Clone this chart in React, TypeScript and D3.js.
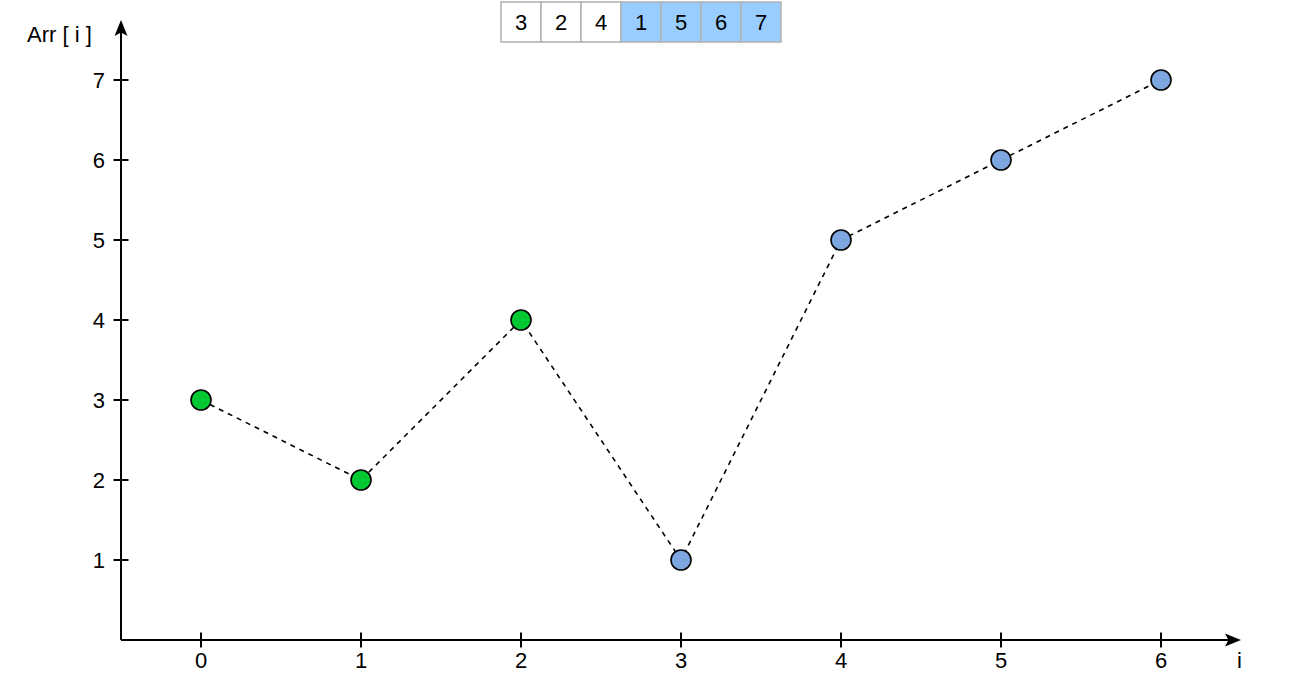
import React from "react";
import * as d3 from "d3";

const indices = [0, 1, 2, 3, 4, 5, 6];
const values = [3, 2, 4, 1, 5, 6, 7];
const pointGroups = ["green", "green", "green", "blue", "blue", "blue", "blue"];
const cellHighlighted = [false, false, false, true, true, true, true];
const yTicks = [1, 2, 3, 4, 5, 6, 7];
const xTicks = [0, 1, 2, 3, 4, 5, 6];
const yAxisTitle = "Arr [ i ]";
const xAxisTitle = "i";

const W = 1304;
const H = 694;
const FONT = "'Liberation Sans', Arial, Helvetica, sans-serif";
const FS = 22;
const GREEN = "#00c832";
const BLUE = "#7ea6e0";
const CELL_BLUE = "#99ccff";

export default function App() {
  const x = d3.scaleLinear().domain([-0.5, 6.5]).range([121, 1241]);
  const y = d3.scaleLinear().domain([0, 7]).range([640, 80]);
  const x0 = x(-0.5);
  const y0 = y(0);
  const yTop = y(7.75);
  const xRight = x(6.5);

  const line = d3
    .line<number>()
    .x((_, i) => x(indices[i]))
    .y((d) => y(d));

  const cellX = d3.scaleBand<number>().domain(indices).range([501, 781]).padding(0);
  const cellTop = 2;
  const cellH = 40;

  return (
    <svg
      width={W}
      height={H}
      style={{ position: "absolute", left: 0, top: 0, background: "#fff" }}
      fontFamily={FONT}
    >
      {/* array cells */}
      <g>
        {values.map((v, i) => (
          <rect
            key={"c" + i}
            x={cellX(i)!}
            y={cellTop}
            width={cellX.bandwidth()}
            height={cellH}
            fill={cellHighlighted[i] ? CELL_BLUE : "#ffffff"}
            stroke="#b3b3b3"
            strokeWidth={1.6}
          />
        ))}
        {values.map((v, i) => (
          <text
            key={"ct" + i}
            x={cellX(i)! + cellX.bandwidth() / 2}
            y={30}
            textAnchor="middle"
            fontSize={FS}
            fill="#000"
          >
            {v}
          </text>
        ))}
      </g>

      {/* axes */}
      <line x1={x0} y1={y0} x2={x0} y2={yTop + 10} stroke="#000" strokeWidth={2} />
      <path
        d={`M${x0},${yTop} L${x0 + 6.5},${yTop + 16} L${x0},${yTop + 12.5} L${x0 - 6.5},${yTop + 16} Z`}
        fill="#000"
      />
      <line x1={x0} y1={y0} x2={xRight - 10} y2={y0} stroke="#000" strokeWidth={2} />
      <path
        d={`M${xRight},${y0} L${xRight - 16},${y0 - 6.5} L${xRight - 12.5},${y0} L${xRight - 16},${y0 + 6.5} Z`}
        fill="#000"
      />

      {yTicks.map((t) => (
        <g key={"yt" + t}>
          <line x1={x0 - 7.5} x2={x0 + 7.5} y1={y(t)} y2={y(t)} stroke="#000" strokeWidth={2} />
          <text x={x0 - 16} y={y(t) + 8} textAnchor="end" fontSize={FS} fill="#000">
            {t}
          </text>
        </g>
      ))}
      {xTicks.map((t) => (
        <g key={"xt" + t}>
          <line x1={x(t)} x2={x(t)} y1={y0 - 7.5} y2={y0 + 7.5} stroke="#000" strokeWidth={2} />
          <text x={x(t)} y={y0 + 28} textAnchor="middle" fontSize={FS} fill="#000">
            {t}
          </text>
        </g>
      ))}

      <text x={27} y={42} fontSize={FS} fill="#000">
        {yAxisTitle}
      </text>
      <text x={1239.5} y={y0 + 28} textAnchor="middle" fontSize={FS} fill="#000">
        {xAxisTitle}
      </text>

      {/* dashed line */}
      <path d={line(values) || ""} fill="none" stroke="#000" strokeWidth={1.6} strokeDasharray="5 5" />

      {/* points */}
      {values.map((v, i) => (
        <circle
          key={"p" + i}
          cx={x(indices[i])}
          cy={y(v)}
          r={10}
          fill={pointGroups[i] === "green" ? GREEN : BLUE}
          stroke="#000"
          strokeWidth={1.6}
        />
      ))}
    </svg>
  );
}
